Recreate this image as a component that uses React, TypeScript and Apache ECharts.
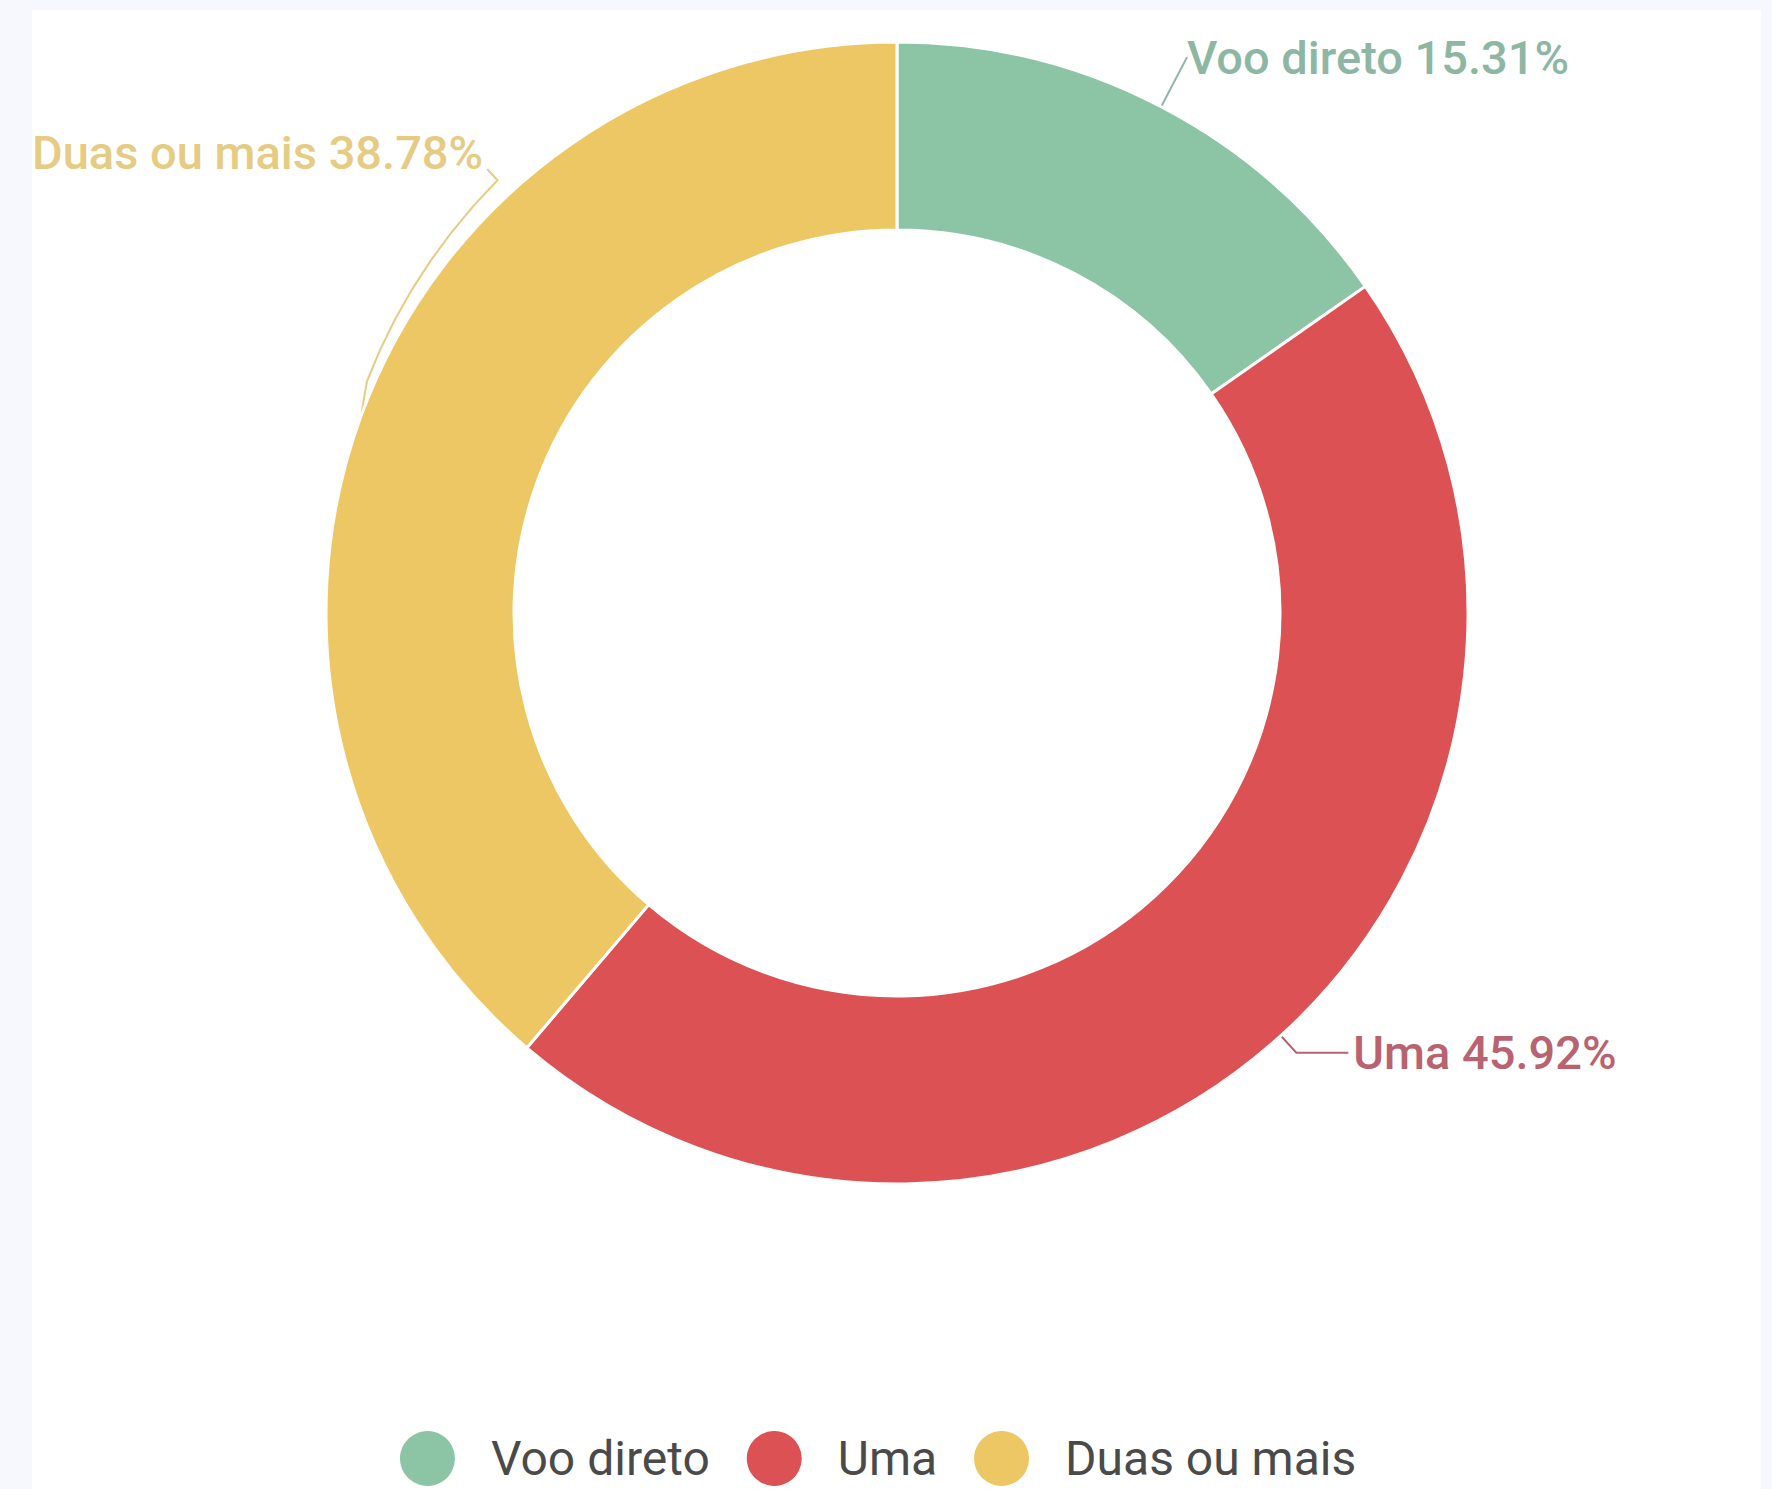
import React, { useEffect, useRef } from "react";
import * as echarts from "echarts";

const categories = ["Voo direto", "Uma", "Duas ou mais"];
const percentages = [15.31, 45.92, 38.78];
const sliceColors = ["#8cc4a6", "#dc5154", "#ecc764"];
const labelColors = ["#8db6a3", "#b8636f", "#e6cb83"];

const CENTER: [number, number] = [865, 603];
const INNER_R = 383;
const OUTER_R = 571;

export default function App() {
  const ref = useRef<HTMLDivElement>(null);

  useEffect(() => {
    if (!ref.current) return;
    const chart = echarts.init(ref.current, null, { renderer: "svg" });

    const lineLengths = [
      { length: 56, length2: 0, dist: 0 },
      { length: 23, length2: 52, dist: 5 },
      { length: 15, length2: 15, dist: 5 },
    ];

    const data = categories.map((name, i) => ({
      name,
      value: percentages[i],
      itemStyle: { color: sliceColors[i] },
      label: { color: labelColors[i], distanceToLabelLine: lineLengths[i].dist },
      labelLine: {
        length: lineLengths[i].length,
        length2: lineLengths[i].length2,
        lineStyle: { color: labelColors[i], width: 2 },
      },
    }));

    const polar = (angle: number, r: number) => [
      CENTER[0] + r * Math.cos(angle),
      CENTER[1] + r * Math.sin(angle),
    ];

    chart.setOption({
      animation: false,
      backgroundColor: "#ffffff",
      legend: {
        show: true,
        top: 1414,
        left: 361,
        icon: "circle",
        itemWidth: 57,
        itemHeight: 57,
        itemGap: 35,
        data: categories,
        textStyle: {
          fontFamily: "Roboto",
          fontSize: 48,
          color: "#4a4a4a",
          padding: [0, 0, 0, 30],
        },
      },
      series: [
        {
          type: "pie",
          center: CENTER,
          radius: [INNER_R, OUTER_R],
          startAngle: 90,
          clockwise: true,
          avoidLabelOverlap: false,
          itemStyle: { borderColor: "#ffffff", borderWidth: 3 },
          label: {
            show: true,
            position: "outside",
            fontFamily: "Roboto",
            fontSize: 47,
            fontWeight: 500,
            formatter: (p: any) => `${p.name} ${p.value.toFixed(2)}%`,
          },
          labelLayout: (params: any) => {
            if (params.dataIndex === 2) {
              const w = params.labelRect.width;
              const ly = 142;
              const anchor = params.labelLinePoints[0];
              const end = [w + 4, ly + 17];
              const a0 = Math.atan2(anchor[1] - CENTER[1], anchor[0] - CENTER[0]);
              const a1 = Math.atan2(end[1] - CENTER[1], end[0] - CENTER[0]);
              const pts: number[][] = [anchor];
              const steps = 8;
              for (let s = 1; s <= steps; s++) {
                const t = s / steps;
                pts.push(polar(a0 + (a1 - a0) * t, OUTER_R + 6 + 12 * t));
              }
              pts.push(end);
              return {
                x: 0,
                y: ly,
                align: "left",
                verticalAlign: "middle",
                labelLinePoints: pts,
              };
            }
            return {};
          },
          emphasis: { disabled: true },
          data,
        },
      ],
    });

    return () => chart.dispose();
  }, []);

  return (
    <div
      style={{
        position: "fixed",
        left: 0,
        top: 0,
        width: 1772,
        height: 1489,
        background: "#f7f8fd",
        overflow: "hidden",
      }}
    >
      <div
        ref={ref}
        style={{
          position: "absolute",
          left: 32,
          top: 10,
          width: 1729,
          height: 1479,
          background: "#ffffff",
        }}
      />
    </div>
  );
}
